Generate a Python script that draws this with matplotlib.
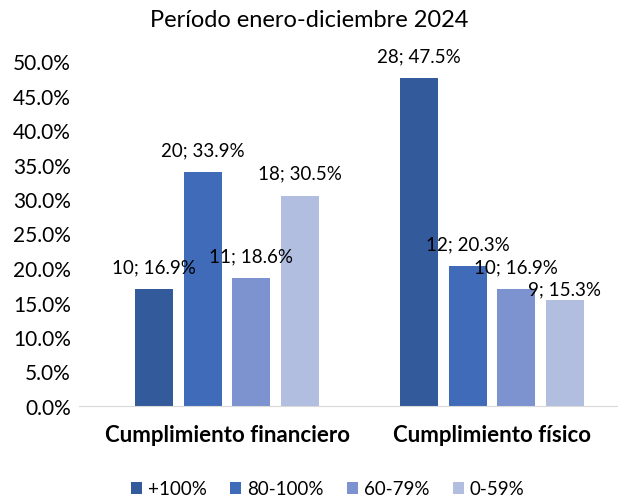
import matplotlib
matplotlib.use("Agg")
from matplotlib import pyplot as plt
from matplotlib.ticker import PercentFormatter
import numpy as np

plt.rcParams['font.family'] = ['Lato', 'DejaVu Sans']

categories = ['Cumplimiento financiero', 'Cumplimiento físico']
series = ['+100%', '80-100%', '60-79%', '0-59%']
counts = [[10, 28], [20, 12], [11, 10], [18, 9]]
percents = [[16.9, 47.5], [33.9, 20.3], [18.6, 16.9], [30.5, 15.3]]
colors = ['#335A9A', '#3F6BB8', '#7C93CF', '#B1BEDF']

fig = plt.figure(figsize=(6.18, 5.02), dpi=100)
ax = fig.add_axes([79 / 618, 95 / 502, 539 / 618, 345 / 502])

x = np.arange(len(categories))
width = 0.143
step = 0.183
# the last label of the second group sits lower in the original
label_dy = {(3, 1): 8}
for i, name in enumerate(series):
    pos = x + (i - 1.5) * step
    vals = np.array(percents[i]) / 100
    bars = ax.bar(pos, vals, width, color=colors[i], label=name)
    for j, (b, n, p) in enumerate(zip(bars, counts[i], percents[i])):
        ax.annotate(f'{n}; {p:.1f}%', (b.get_x() + b.get_width() / 2, b.get_height()),
                    xytext=(0, label_dy.get((i, j), 16)), textcoords='offset points',
                    ha='center', va='center', fontsize=13.5)

ax.set_xlim(-0.5585, 1.475)
ax.set_ylim(0, 0.5)
ax.set_yticks(np.arange(0, 0.501, 0.05))
ax.yaxis.set_major_formatter(PercentFormatter(1.0, decimals=1))
ax.set_xticks(x)
ax.set_xticklabels(categories, fontweight='bold', fontsize=16)
ax.tick_params(axis='y', length=0, labelsize=15, pad=6)
ax.tick_params(axis='x', length=0, pad=13)
for s in ['top', 'right', 'left']:
    ax.spines[s].set_visible(False)
ax.spines['bottom'].set_color('#D9D9D9')

fig.text(0.5, 0.96, 'Período enero-diciembre 2024', ha='center', va='center', fontsize=17)
fig.legend(loc='center', bbox_to_anchor=(0.53, 0.024), ncol=4, frameon=False,
           fontsize=13.5, handlelength=0.6, handleheight=0.6, handletextpad=0.3,
           columnspacing=1.25)

fig.savefig('out.png', dpi=100)
